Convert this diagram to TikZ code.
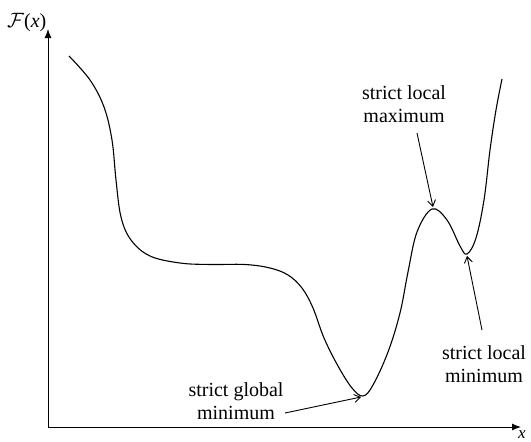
\documentclass[tikz,border=0pt]{standalone}
\usepackage{fontspec}
\setmainfont{Liberation Serif}
\usetikzlibrary{arrows.meta}
\begin{document}
\begin{tikzpicture}[x=1pt,y=-1pt,
  lbl/.style={font=\fontsize{20}{23}\selectfont, align=center, inner sep=0pt},
  axis/.style={line width=1pt,-{Latex[length=9pt,width=7pt]}},
  callout/.style={line width=0.9pt,-{Straight Barb[length=6pt,width=8pt]}},
  curve/.style={line width=1.1pt}]
\useasboundingbox (0,0) rectangle (531,442);
% axes
\coordinate (O) at (48,427);
\coordinate (Ytip) at (48,29);
\coordinate (Xtip) at (521,427);
\draw[axis] (O) -- (Ytip);
\draw[axis] (O) -- (Xtip);
\node[lbl, anchor=base west] (Fx) at (7,27) {$\mathcal{F}$(\textit{x})};
\node[lbl, anchor=base west, font=\fontsize{17}{20}\selectfont] (xl) at (518,438) {\textit{x}};
% curve
\draw[curve] plot[smooth, tension=0.6] coordinates {
 (69,56) (90,80) (104,107) (112,140) (116,180) (121,217) (131,240) (150,256)
 (180,263) (210,264.5) (245,264.5) (270,268) (288,275) (302,288) (313,308)
 (324,338) (338,366) (352,388) (363,396) (373,385) (388,352) (400,313) (408,272)
 (417,232) (432,209) (447,220) (460,246) (467,254) (476,238) (484,200) (490,150) (496,110) (502,79)};
% callouts
\coordinate (gmin) at (361,397);
\coordinate (lmax) at (433,207);
\coordinate (lmin) at (467,256);
\node[lbl] (tgmin) at (236,401) {strict global\\minimum};
\node[lbl] (tlmax) at (404,104) {strict local\\maximum};
\node[lbl] (tlmin) at (484,364) {strict local\\minimum};
\coordinate (tg) at (285,413);
\coordinate (tm) at (417,133);
\coordinate (tn) at (482,330);
\draw[callout] (tg) -- (gmin);
\draw[callout] (tm) -- (lmax);
\draw[callout] (tn) -- (lmin);
\end{tikzpicture}
\end{document}
